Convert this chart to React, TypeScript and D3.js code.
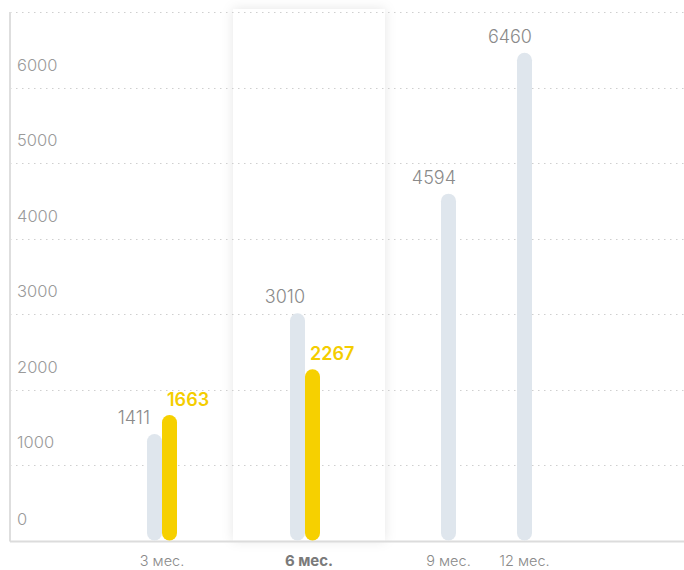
import React from "react";
import * as d3 from "d3";

const categories = ["3 мес.", "6 мес.", "9 мес.", "12 мес."];
const grayValues = [1411, 3010, 4594, 6460];
const yellowValues: (number | null)[] = [1663, 2267, null, null];
const yTicks = [0, 1000, 2000, 3000, 4000, 5000, 6000];
const gridValues = [1000, 2000, 3000, 4000, 5000, 6000, 7000];
const highlighted = "6 мес.";

const W = 684;
const H = 570;
const BASE = 540.5;
const TOP = 12;
const LEFT = 10;
const BAR_W = 15;

export default function App() {
  const y = d3.scaleLinear().domain([0, 7000]).range([BASE, TOP]);
  const x = d3
    .scaleOrdinal<string, number>()
    .domain(categories)
    .range([162, 305, 448.5, 524.5]);
  const font = "Inter, 'Noto Sans', sans-serif";

  return (
    <svg
      width={W}
      height={H}
      style={{ position: "absolute", left: 0, top: 0, background: "#fff" }}
      fontFamily={font}
    >
      <defs>
        <filter id="sh" x="-30%" y="-10%" width="160%" height="120%">
          <feDropShadow dx="0" dy="0" stdDeviation="6" floodColor="#000" floodOpacity="0.1" />
        </filter>
      </defs>
      {/* highlight box */}
      <rect
        x={x(highlighted) - 76 + 4}
        y={9}
        width={152}
        height={BASE - 9}
        fill="#fff"
        filter="url(#sh)"
      />
      {/* gridlines */}
      {gridValues.map((v) => (
        <line
          key={v}
          x1={LEFT}
          x2={W}
          y1={Math.round(y(v)) + 0.5}
          y2={Math.round(y(v)) + 0.5}
          stroke="#cfcfcf"
          strokeWidth={1.2}
          strokeDasharray="1.5 4.5"
        />
      ))}
      {/* axes */}
      <line x1={LEFT} x2={LEFT} y1={TOP} y2={BASE + 1} stroke="#dedede" strokeWidth={2} />
      <line x1={LEFT} x2={W} y1={BASE + 1} y2={BASE + 1} stroke="#dcdcdc" strokeWidth={2} />
      {/* y tick labels */}
      {yTicks.map((v) => (
        <text
          key={v}
          x={17}
          y={y(v) - (v === 0 ? 16 : 17)}
          fontSize={16.5}
          fontWeight={300}
          fill="#9a9a9a"
        >
          {v}
        </text>
      ))}
      {/* bars */}
      {categories.map((c, i) => {
        const cx = x(c);
        const yv = yellowValues[i];
        const gx = yv != null ? cx - BAR_W : cx - BAR_W / 2;
        const gTop = y(grayValues[i]);
        const shiftLeft = yv != null && y(yv) < gTop ? 12 : 0;
        return (
          <g key={c}>
            <rect
              x={gx}
              y={gTop}
              width={BAR_W}
              height={BASE - gTop}
              rx={BAR_W / 2}
              fill="#dfe6ed"
            />
            <text
              x={gx + BAR_W - shiftLeft}
              y={gTop - 10}
              textAnchor="end"
              fontSize={18}
              fontWeight={300}
              fill="#8a8a8a"
            >
              {grayValues[i]}
            </text>
            {yv != null && (
              <>
                <rect
                  x={cx}
                  y={y(yv)}
                  width={BAR_W}
                  height={BASE - y(yv)}
                  rx={BAR_W / 2}
                  fill="#f6d000"
                />
                <text
                  x={cx + 5}
                  y={y(yv) - 9}
                  fontSize={18}
                  fontWeight={600}
                  fill="#f4cd00"
                >
                  {yv}
                </text>
              </>
            )}
            <text
              x={cx + (c === highlighted ? 4 : 0)}
              y={566}
              textAnchor="middle"
              fontSize={c === highlighted ? 15 : 14.5}
              fontWeight={c === highlighted ? 700 : 300}
              fill={c === highlighted ? "#7a7a7a" : "#8a8a8a"}
            >
              {c}
            </text>
          </g>
        );
      })}
    </svg>
  );
}
